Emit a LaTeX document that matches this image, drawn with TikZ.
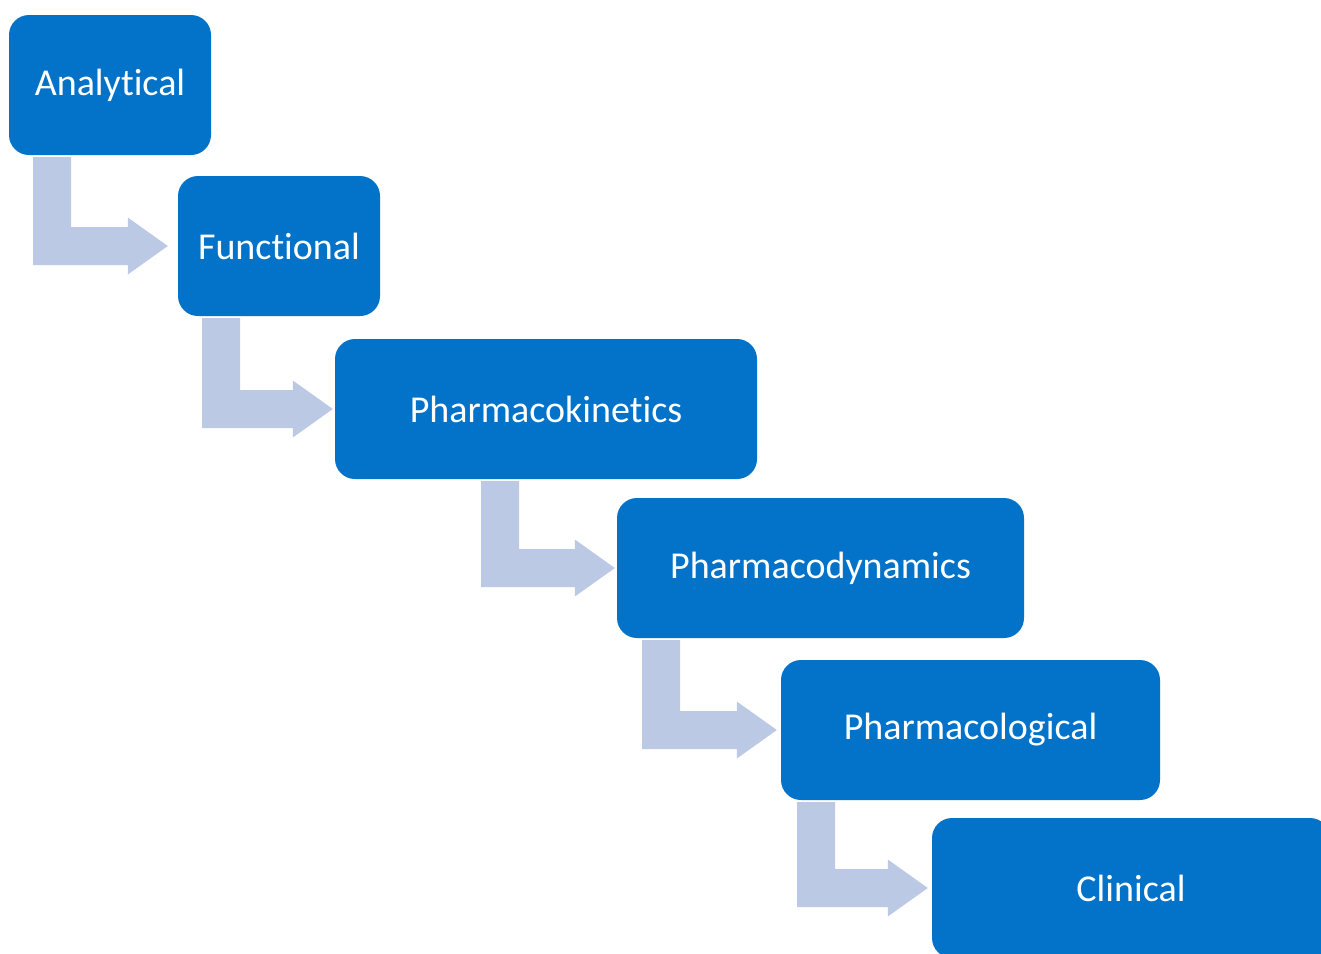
\documentclass[tikz,border=0pt]{standalone}
\usepackage{fontspec}
\setmainfont{Carlito}[Ligatures={NoCommon}]
\usetikzlibrary{calc}
\definecolor{stageblue}{RGB}{3,114,201}
\definecolor{flowgrey}{RGB}{188,201,228}
\tikzset{
  stagebox/.style={fill=stageblue, draw=none, rounded corners=20pt,
    minimum height=140pt, text=white, inner sep=0pt,
    font=\fontsize{38}{45}\selectfont},
  flowarrow/.style={fill=flowgrey, draw=none}
}
% bent arrow: #1 upper node, #2 lower node, #3 left x of the down shaft, #4 gap before the lower node
\newcommand{\bentarrow}[4]{%
  \fill[flowarrow] let \p1=(#1.south), \p2=(#2.west) in
    (#3pt,\y1-2pt) -- (#3pt+38pt,\y1-2pt) -- (#3pt+38pt,\y2+19pt)
    -- (\x2-#4pt-40pt,\y2+19pt) -- (\x2-#4pt-40pt,\y2+28.5pt) -- (\x2-#4pt,\y2)
    -- (\x2-#4pt-40pt,\y2-28.5pt) -- (\x2-#4pt-40pt,\y2-19pt) -- (#3pt,\y2-19pt) -- cycle;
}
\begin{document}
\begin{tikzpicture}[x=1pt,y=1pt]
  \useasboundingbox (0,0) rectangle (1321,-953);
  \clip (0,0) rectangle (1321,-953);
  \node[stagebox, minimum width=202pt] (ana) at (110,-85) {Analytical};
  \node[stagebox, minimum width=202pt] (fun) at (279,-246) {Functional};
  \node[stagebox, minimum width=422pt] (pk) at (546,-409) {Pharmacokinetics};
  \node[stagebox, minimum width=407pt] (pd) at (820.5,-568) {Pharmacodynamics};
  \node[stagebox, minimum width=379pt] (pl) at (970.5,-730) {Pharmacological};
  \node[stagebox, minimum width=398pt] (cl) at (1131,-888) {Clinical};
  \bentarrow{ana}{fun}{33}{10}
  \bentarrow{fun}{pk}{202}{2}
  \bentarrow{pk}{pd}{481}{2}
  \bentarrow{pd}{pl}{642}{4}
  \bentarrow{pl}{cl}{797}{4}
\end{tikzpicture}
\end{document}
